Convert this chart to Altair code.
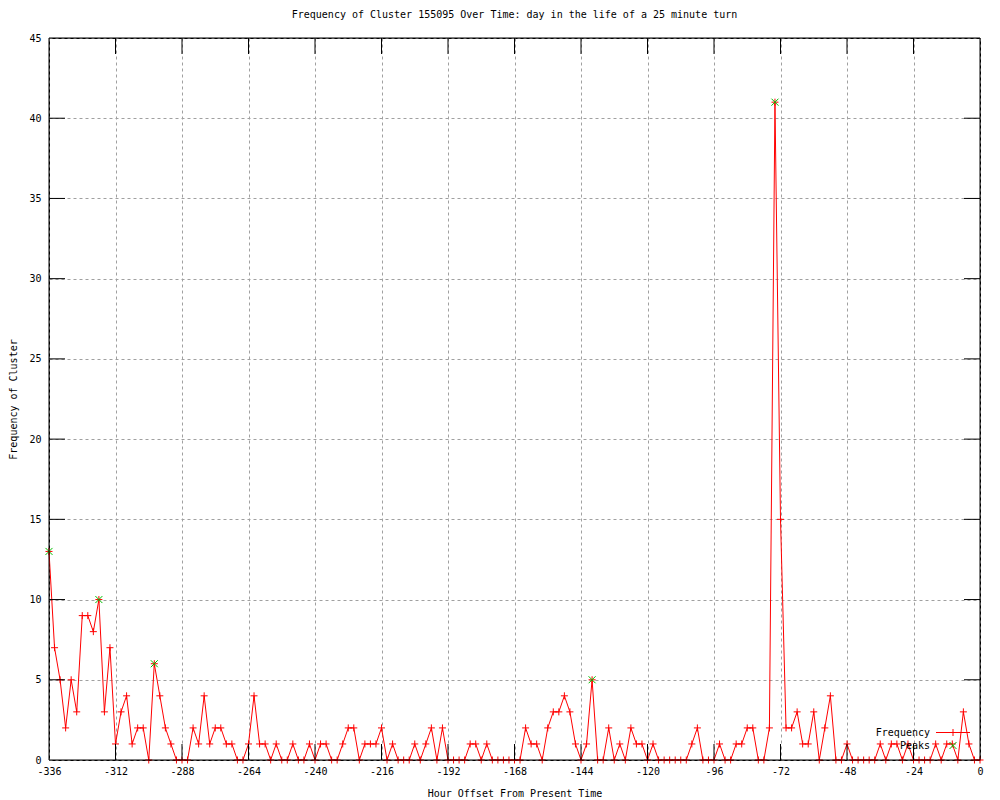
import altair as alt
import pandas as pd

# ---- data ----
hours = list(range(-336, 1, 2))
frequency = [13, 7, 5, 2, 5, 3, 9, 9, 8, 10,
             3, 7, 1, 3, 4, 1, 2, 2, 0, 6,
             4, 2, 1, 0, 0, 0, 2, 1, 4, 1,
             2, 2, 1, 1, 0, 0, 1, 4, 1, 1,
             0, 1, 0, 0, 1, 0, 0, 1, 0, 1,
             1, 0, 0, 1, 2, 2, 0, 1, 1, 1,
             2, 0, 1, 0, 0, 0, 1, 0, 1, 2,
             0, 2, 0, 0, 0, 0, 1, 1, 0, 1,
             0, 0, 0, 0, 0, 0, 2, 1, 1, 0,
             2, 3, 3, 4, 3, 1, 0, 1, 5, 0,
             0, 2, 0, 1, 0, 2, 1, 1, 0, 1,
             0, 0, 0, 0, 0, 0, 1, 2, 0, 0,
             0, 1, 0, 0, 1, 1, 2, 2, 0, 0,
             2, 41, 15, 2, 2, 3, 1, 1, 3, 0,
             2, 4, 0, 0, 1, 0, 0, 0, 0, 0,
             1, 0, 1, 1, 0, 1, 0, 0, 0, 0,
             1, 0, 1, 1, 0, 3, 1, 0, 0]
peak_hours = [-336, -318, -298, -140, -74]
peak_values = [13, 10, 6, 5, 41]
x_ticks = list(range(-336, 1, 24))
y_ticks = list(range(0, 46, 5))
legend_labels = ["Frequency", "Peaks"]
title_text = "Frequency of Cluster 155095 Over Time: day in the life of a 25 minute turn"
x_title = "Hour Offset From Present Time"
y_title = "Frequency of Cluster"

# ---- styles ----
W, H = 931, 722
FONT = "DejaVu Sans Mono"
RED = "#ff0000"
GREEN = "#00c000"
GRID = "#a0a0a0"
TICK = 16
PLUS = "M-1,0L1,0M0,-1L0,1"
XSHAPE = "M-1,-1L1,1M-1,1L1,-1"

freq_df = pd.DataFrame({"hour": hours, "freq": frequency})
peak_df = pd.DataFrame({"hour": peak_hours, "freq": peak_values})
xt_df = pd.DataFrame({"hour": x_ticks[1:-1]})
yt_df = pd.DataFrame({"freq": y_ticks[1:-1]})
leg_df = pd.DataFrame({"label": legend_labels})

xs = alt.Scale(domain=[-336, 0], nice=False, zero=False)
ys = alt.Scale(domain=[0, 45], nice=False)

x_axis = alt.Axis(values=x_ticks, title=x_title, grid=True, gridColor=GRID,
                  gridDash=[3, 3], gridOpacity=1, ticks=False, domain=False,
                  labelExpr="toString(datum.value)", labelFont=FONT,
                  labelFontSize=10, labelColor="black", labelPadding=6,
                  labelFlush=False, labelOverlap=False, titleFont=FONT,
                  titleFontSize=10, titleFontWeight="normal",
                  titleColor="black", titleX=W / 2, titleY=33,
                  titleBaseline="middle", titleAlign="center")
y_axis = alt.Axis(values=y_ticks, title=y_title, grid=True, gridColor=GRID,
                  gridDash=[3, 3], gridOpacity=1, ticks=False, domain=False,
                  labelFont=FONT, labelFontSize=10, labelColor="black",
                  labelPadding=8, labelFlush=False, labelOverlap=False,
                  titleFont=FONT, titleFontSize=10, titleFontWeight="normal",
                  titleColor="black", titleX=-36, titleY=H / 2,
                  titleAngle=270, titleBaseline="middle", titleAlign="center")

X = alt.X("hour:Q", scale=xs, axis=x_axis)
Y = alt.Y("freq:Q", scale=ys, axis=y_axis)

line = alt.Chart(freq_df).mark_line(color=RED, strokeWidth=1).encode(x=X, y=Y)
pts = alt.Chart(freq_df).mark_point(shape=PLUS, size=49, filled=False,
                                    color=RED, strokeWidth=1, opacity=1).encode(x=X, y=Y)
peaks = alt.Chart(peak_df).mark_point(shape=XSHAPE, size=49, filled=False,
                                      color=GREEN, strokeWidth=1, opacity=1).encode(x=X, y=Y)

# inward tick marks on all four borders (gnuplot style)
t_bottom = alt.Chart(xt_df).mark_rule(color="black", strokeWidth=1).encode(
    x=X, y=alt.value(H), y2=alt.value(H - TICK))
t_top = alt.Chart(xt_df).mark_rule(color="black", strokeWidth=1).encode(
    x=X, y=alt.value(0), y2=alt.value(TICK))
t_left = alt.Chart(yt_df).mark_rule(color="black", strokeWidth=1).encode(
    y=Y, x=alt.value(0), x2=alt.value(TICK))
t_right = alt.Chart(yt_df).mark_rule(color="black", strokeWidth=1).encode(
    y=Y, x=alt.value(W), x2=alt.value(W - TICK))

# plot border drawn above the grid
frame = alt.Chart(leg_df).transform_filter(alt.datum.label == legend_labels[0]).mark_rect(
    fill=None, fillOpacity=0, stroke="black", strokeWidth=1).encode(
    x=alt.value(0), x2=alt.value(W), y=alt.value(0), y2=alt.value(H))

# key (bottom right, inside the plot)
ROW1, ROW2 = 694.5, 707.5
KEY_TEXT_X, KEY_L, KEY_R = 881, 887, 921
KEY_MID = (KEY_L + KEY_R) / 2
k_text1 = alt.Chart(leg_df).transform_filter(alt.datum.label == legend_labels[0]).mark_text(
    align="right", baseline="middle", font=FONT, fontSize=10, color="black").encode(
    text="label:N", x=alt.value(KEY_TEXT_X), y=alt.value(ROW1))
k_text2 = alt.Chart(leg_df).transform_filter(alt.datum.label == legend_labels[1]).mark_text(
    align="right", baseline="middle", font=FONT, fontSize=10, color="black").encode(
    text="label:N", x=alt.value(KEY_TEXT_X), y=alt.value(ROW2))
k_line = alt.Chart(leg_df).transform_filter(alt.datum.label == legend_labels[0]).mark_rule(
    color=RED, strokeWidth=1).encode(x=alt.value(KEY_L), x2=alt.value(KEY_R), y=alt.value(ROW1))
k_plus = alt.Chart(leg_df).transform_filter(alt.datum.label == legend_labels[0]).mark_point(
    shape=PLUS, size=49, filled=False, color=RED, strokeWidth=1, opacity=1).encode(
    x=alt.value(KEY_MID), y=alt.value(ROW1))
k_x = alt.Chart(leg_df).transform_filter(alt.datum.label == legend_labels[1]).mark_point(
    shape=XSHAPE, size=49, filled=False, color=GREEN, strokeWidth=1, opacity=1).encode(
    x=alt.value(KEY_MID), y=alt.value(ROW2))

chart = alt.layer(
    line, pts, peaks, t_bottom, t_top, t_left, t_right, frame,
    k_text1, k_text2, k_line, k_plus, k_x,
).properties(
    width=W, height=H,
    title=alt.Title(title_text, font=FONT, fontSize=10, fontWeight="normal",
                    color="black", anchor="middle", offset=13),
    autosize=alt.AutoSizeParams(type="none"),
    padding={"left": 41, "top": 30, "right": 12, "bottom": 40},
).configure(
    background="white",
    view=alt.ViewConfig(stroke="black", strokeWidth=1),
)

chart.save("out.html", embed_options={"renderer": "svg", "actions": False})
